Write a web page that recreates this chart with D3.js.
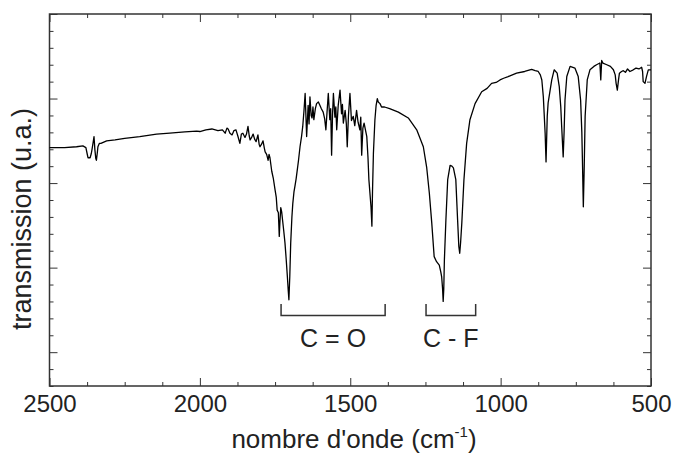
<!DOCTYPE html>
<html>
<head>
<meta charset="utf-8">
<script src="https://cdn.jsdelivr.net/npm/d3@7"></script>
<style>
body { margin: 0; background: #fff; }
text { font-family: "Liberation Sans", Arial, sans-serif; fill: #222; }
</style>
</head>
<body>
<svg id="chart" width="675" height="466"></svg>
<script>
var wavenumber = [
    2500, 2450, 2410, 2389, 2379, 2375, 2372, 2365, 2361, 2359, 2355, 2352, 2349, 2346, 2344, 2341, 2339, 2334, 2329,
    2310, 2282, 2250, 2200, 2144, 2100, 2050, 2011,
    2000, 1980, 1960, 1940, 1925, 1916, 1910, 1906, 1900, 1893, 1887, 1880, 1874, 1867, 1862, 1857, 1850, 1845, 1840,
    1836, 1833, 1828, 1823, 1818, 1813, 1807, 1803, 1800, 1795, 1790, 1786, 1783, 1778, 1773, 1770, 1767, 1761, 1756,
    1750, 1746, 1743, 1739, 1736, 1734, 1731, 1728, 1725, 1721, 1717, 1713, 1709, 1706, 1704, 1701, 1698, 1694, 1691,
    1687, 1684, 1680, 1676, 1672, 1667, 1662,
    1658, 1654, 1650, 1645, 1640, 1637, 1634, 1630, 1627, 1624, 1621, 1616, 1612, 1606, 1601, 1596, 1590, 1585, 1581,
    1577, 1573, 1568, 1565, 1562, 1559, 1556, 1551, 1548, 1545, 1540, 1534, 1529, 1526, 1523, 1517, 1513, 1510, 1506,
    1501, 1496, 1490, 1485, 1479, 1474, 1468, 1465, 1462, 1458, 1454, 1449, 1445, 1441, 1438, 1431, 1428, 1426, 1423,
    1418, 1414, 1410, 1407, 1401, 1396,
    1390, 1386, 1369, 1340, 1307, 1279, 1257, 1246, 1237, 1229, 1221, 1213, 1204, 1199, 1196, 1193, 1191, 1189, 1187,
    1182, 1176, 1168, 1162, 1157, 1149, 1143, 1139, 1136, 1133, 1129, 1122, 1113, 1102, 1085, 1063, 1045, 1030, 1015,
    1002, 990, 975, 947, 920, 897, 885, 875, 868, 863, 858, 852, 849, 845, 842, 838, 830, 822, 812, 805, 800, 797, 792,
    789, 786, 780, 769, 753, 742, 734, 730, 728, 725, 722, 719, 712, 703, 690, 681, 670, 667, 664, 660, 647, 635, 625,
    619, 616, 612, 608, 605, 598, 592, 585, 578, 570, 559, 550, 540, 531, 528, 526, 520, 515, 509, 500
];
var transmission = [
    24.2, 24.2, 24.3, 24.4, 24.2, 23.5, 23.0, 23.0, 23.5, 23.9, 24.8, 25.5, 23.9, 22.9, 22.7, 23.6, 24.3, 24.7, 24.7,
    25.0, 25.1, 25.3, 25.5, 25.8, 25.9, 26.05, 26.15,
    26.1, 26.3, 26.4, 26.2, 26.3, 25.9, 26.5, 26.4, 25.9, 25.7, 26.2, 26.3, 25.6, 24.7, 25.8, 25.9, 25.4, 25.8, 26.7,
    25.6, 25.1, 25.4, 25.8, 25.2, 24.9, 25.7, 24.6, 24.3, 24.6, 25.0, 24.2, 23.7, 23.4, 22.7, 23.4, 23.0, 21.4, 20.6,
    19.2, 18.3, 16.8, 16.5, 13.7, 15.3, 17.1, 16.6, 15.6, 14.3, 12.9, 11.0, 8.9, 7.2, 6.2, 9.0, 12.9, 16.0, 17.6,
    19.0, 19.6, 20.5, 21.6, 22.7, 24.3, 25.5,
    26.7, 28.5, 30.6, 25.5, 29.2, 27.0, 30.2, 28.0, 27.7, 29.0, 27.5, 28.8, 29.4, 29.6, 29.2, 28.8, 28.4, 27.6, 26.3,
    28.5, 30.6, 27.5, 28.8, 23.3, 28.0, 30.6, 27.8, 29.0, 26.3, 29.2, 31.0, 28.2, 29.3, 27.1, 28.6, 27.0, 24.3, 28.0,
    30.6, 27.4, 27.9, 26.8, 28.6, 27.2, 26.3, 27.8, 23.3, 26.5, 27.1, 26.2, 25.5, 23.0, 20.4, 17.2, 14.9, 19.0, 23.5,
    27.5, 29.2, 30.0, 29.6, 29.4, 29.0,
    29.0, 29.0, 28.8, 28.4, 27.7, 26.3, 24.3, 21.9, 18.8, 15.3, 11.3, 10.7, 10.3, 9.5, 8.9, 7.5, 6.0, 7.5, 10.9,
    15.6, 20.4, 22.1, 22.0, 21.8, 20.4, 15.6, 12.5, 11.7, 13.0, 15.3, 20.4, 24.7, 27.5, 29.4, 30.8, 31.2, 31.8, 31.9,
    32.2, 32.4, 32.6, 33.0, 33.2, 33.45, 33.3, 33.2, 32.8, 32.2, 30.2, 25.9, 22.5, 27.9, 29.5, 30.4, 32.2, 33.4, 33.0,
    31.4, 29.0, 26.7, 23.1, 26.0, 29.8, 32.6, 33.8, 33.6, 32.6, 29.8, 26.0, 22.7, 17.2, 22.0, 27.9, 32.2, 33.4, 33.8,
    34.0, 34.2, 32.2, 34.5, 34.2, 34.0, 33.8, 33.4, 32.8, 31.8, 31.0, 32.2, 33.0, 33.2, 33.3, 33.1, 33.5, 33.2, 33.4,
    33.6, 33.5, 33.7, 33.2, 32.0, 31.8, 32.6, 33.4, 33.4
];

var xTickValues = [2500, 2000, 1500, 1000, 500];
var xMinorTicks = d3.range(2500, 499, -125);
var yMajorTicks = [0, 10, 20, 30, 40];
var yMinorTicks = d3.range(-4, 40.1, 2);

// absorption bands marked under the spectrum
var bandNames = ["C = O", "C - F"];
var bandFrom = [1730, 1248];
var bandTo = [1384, 1083];
var bandLevel = 4.35;
var bandTop = 5.7;

var svg = d3.select("#chart");

var plotLeft = 49.5, plotRight = 651, plotTop = 14, plotBottom = 386;

var x = d3.scaleLinear().domain([2500, 500]).range([plotLeft, plotRight]);
var y = d3.scaleLinear().domain([-4, 40]).range([plotBottom, plotTop]);

//
// ticks on the four sides, all pointing inward, long ones on the major values
//
function drawTicks(axis, tx, ty, values, len) {
    var g = svg.append("g")
        .attr("transform", "translate(" + tx + "," + ty + ")")
        .call(axis.tickValues(values).tickSize(-len).tickFormat(""));
    g.select(".domain").remove();
    g.selectAll("line").style("stroke", "#333").style("stroke-width", 1);
    return g;
}

var xMinorOnly = xMinorTicks.filter(function(d) { return xTickValues.indexOf(d) < 0; });
var yMinorOnly = yMinorTicks.filter(function(d) { return yMajorTicks.indexOf(d) < 0; });

drawTicks(d3.axisBottom(x), 0, plotBottom, xMinorOnly, 4);
drawTicks(d3.axisTop(x), 0, plotTop, xMinorOnly, 4);
drawTicks(d3.axisTop(x), 0, plotTop, xTickValues, 8);
drawTicks(d3.axisLeft(y), plotLeft, 0, yMinorOnly, 4);
drawTicks(d3.axisLeft(y), plotLeft, 0, yMajorTicks, 8);
drawTicks(d3.axisRight(y), plotRight, 0, yMinorOnly, 4);
drawTicks(d3.axisRight(y), plotRight, 0, yMajorTicks, 8);

// bottom major ticks carry the labels
var xAxis = svg.append("g")
    .attr("transform", "translate(0," + plotBottom + ")")
    .call(d3.axisBottom(x).tickValues(xTickValues).tickSize(-8).tickPadding(9).tickFormat(d3.format("d")));
xAxis.select(".domain").remove();
xAxis.selectAll("line").style("stroke", "#333").style("stroke-width", 1);
xAxis.selectAll("text")
    .style("font-family", "Liberation Sans, Arial, sans-serif")
    .style("font-size", "24px")
    .style("fill", "#222");

// frame
svg.append("rect")
    .attr("x", plotLeft)
    .attr("y", plotTop)
    .attr("width", plotRight - plotLeft)
    .attr("height", plotBottom - plotTop)
    .style("fill", "none")
    .style("stroke", "#333")
    .style("stroke-width", 1.5);

// spectrum
var line = d3.line()
    .x(function(d, i) { return x(wavenumber[i]); })
    .y(function(d) { return y(d); });

svg.append("path")
    .datum(transmission)
    .attr("d", line)
    .style("fill", "none")
    .style("stroke", "#000")
    .style("stroke-width", 1.3)
    .style("stroke-linejoin", "round");

// band brackets and their labels
bandNames.forEach(function(name, i) {
    svg.append("path")
        .attr("d", "M" + x(bandFrom[i]) + "," + y(bandTop) + "V" + y(bandLevel) +
                   "H" + x(bandTo[i]) + "V" + y(bandTop))
        .style("fill", "none")
        .style("stroke", "#333")
        .style("stroke-width", 1.5);

    svg.append("text")
        .text(name)
        .attr("x", (x(bandFrom[i]) + x(bandTo[i])) / 2)
        .attr("y", y(bandLevel) + 32)
        .attr("text-anchor", "middle")
        .style("font-size", "25px");
});

// axis titles
svg.append("text")
    .text("transmission (u.a.)")
    .attr("transform", "translate(31,219) rotate(-90)")
    .attr("text-anchor", "middle")
    .style("font-size", "27px");

var xTitle = svg.append("text")
    .attr("x", 354)
    .attr("y", 448)
    .attr("text-anchor", "middle")
    .style("font-size", "26px");
xTitle.append("tspan").text("nombre d'onde (cm");
xTitle.append("tspan").text("-1").attr("dy", -11).style("font-size", "15px");
xTitle.append("tspan").text(")").attr("dy", 11);
</script>
</body>
</html>
